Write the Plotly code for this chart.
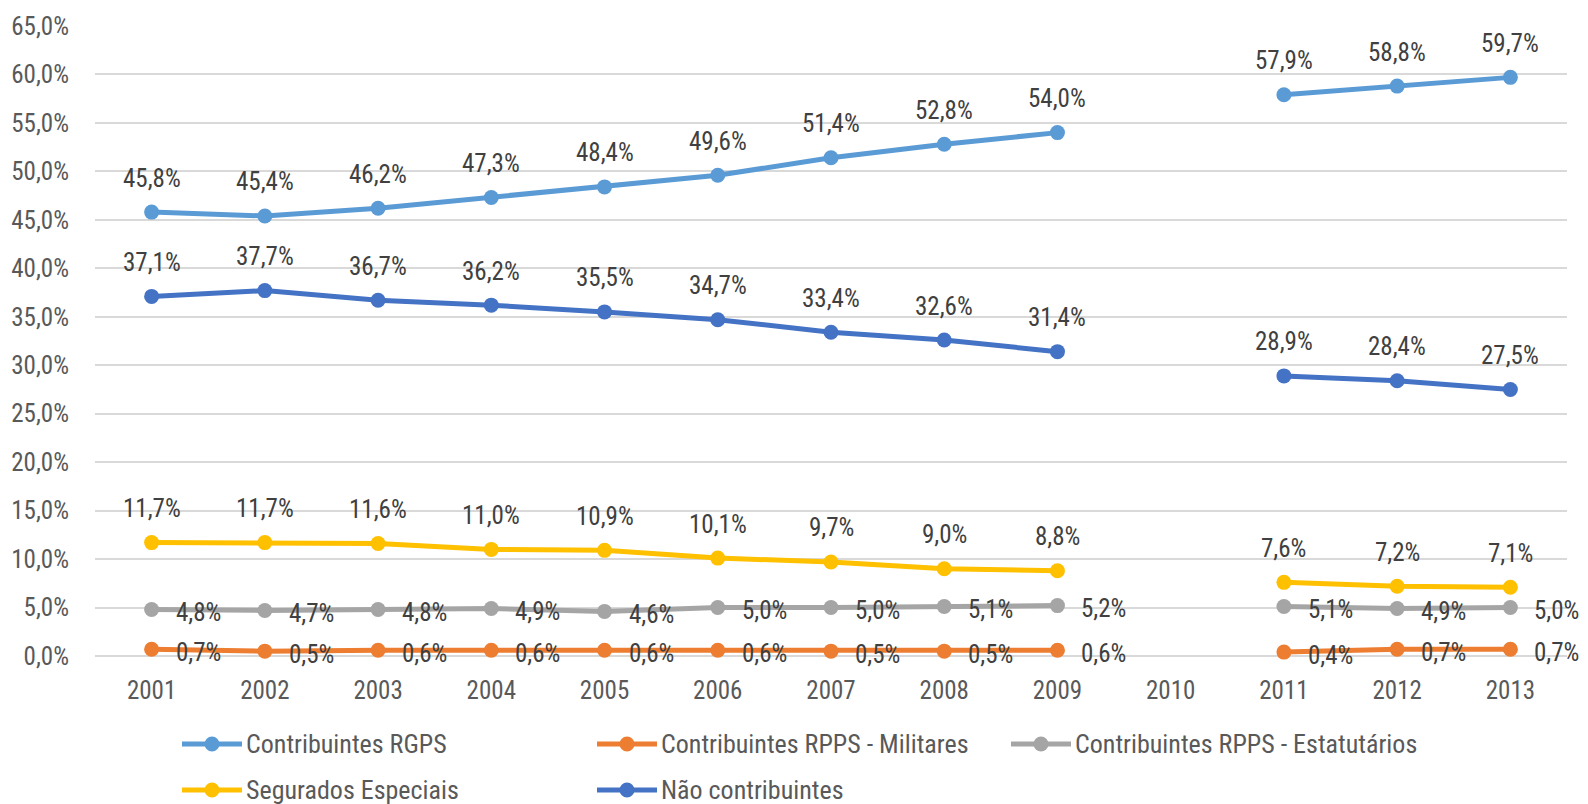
import plotly.graph_objects as go

years = ["2001", "2002", "2003", "2004", "2005", "2006", "2007", "2008", "2009", "2010", "2011", "2012", "2013"]
rgps = [45.8, 45.4, 46.2, 47.3, 48.4, 49.6, 51.4, 52.8, 54.0, None, 57.9, 58.8, 59.7]
militares = [0.7, 0.5, 0.6, 0.6, 0.6, 0.6, 0.5, 0.5, 0.6, None, 0.4, 0.7, 0.7]
estatutarios = [4.8, 4.7, 4.8, 4.9, 4.6, 5.0, 5.0, 5.1, 5.2, None, 5.1, 4.9, 5.0]
segurados = [11.7, 11.7, 11.6, 11.0, 10.9, 10.1, 9.7, 9.0, 8.8, None, 7.6, 7.2, 7.1]
nao_contrib = [37.1, 37.7, 36.7, 36.2, 35.5, 34.7, 33.4, 32.6, 31.4, None, 28.9, 28.4, 27.5]

names = ["Contribuintes RGPS", "Contribuintes RPPS - Militares", "Contribuintes RPPS - Estatutários",
         "Segurados Especiais", "Não contribuintes"]
colors = ["#5B9BD5", "#ED7D31", "#A5A5A5", "#FFC000", "#4472C4"]
series = [rgps, militares, estatutarios, segurados, nao_contrib]
label_pos = ["top", "right", "right", "top", "top"]

FONT = "Liberation Sans Narrow, Arial Narrow, Roboto Condensed, DejaVu Sans Condensed, sans-serif"
W, H = 1588, 804
L, R, T, B = 95, 21, 26, 148
PW, PH = W - L - R, H - T - B

fig = go.Figure()
annotations = []
for name, col, vals, pos in zip(names, colors, series, label_pos):
    fig.add_trace(go.Scatter(
        x=years, y=vals, mode="lines+markers", name=name,
        line=dict(color=col, width=5), marker=dict(color=col, size=15),
        showlegend=False, connectgaps=False, cliponaxis=False,
    ))
    for i, v in enumerate(vals):
        if v is None:
            continue
        txt = f"{v:.1f}".replace(".", ",") + "%"
        if pos == "top":
            annotations.append(dict(x=i, y=v, xref="x", yref="y", text=txt, showarrow=False,
                                    xanchor="center", yanchor="middle", yshift=34,
                                    font=dict(family=FONT, size=25, color="#404040")))
        else:
            annotations.append(dict(x=i, y=v, xref="x", yref="y", text=txt, showarrow=False,
                                    xanchor="left", yanchor="middle", xshift=22, yshift=-3,
                                    font=dict(family=FONT, size=25, color="#404040")))

# manual legend (pixel layout converted to paper coordinates)
shapes = []
leg_items = [(182, 744), (597, 744), (1011, 744), (182, 790), (597, 790)]
for (px, py), name, col in zip(leg_items, names, colors):
    x0 = (px - L) / PW
    x1 = (px + 60 - L) / PW
    xm = (px + 30 - L) / PW
    yp = (H - B - py) / PH
    shapes.append(dict(type="line", xref="paper", yref="paper", x0=x0, x1=x1, y0=yp, y1=yp,
                       line=dict(color=col, width=5)))
    shapes.append(dict(type="circle", xref="paper", yref="paper", xsizemode="pixel", ysizemode="pixel",
                       xanchor=xm, yanchor=yp, x0=-7.5, x1=7.5, y0=-7.5, y1=7.5,
                       fillcolor=col, line=dict(width=0)))
    annotations.append(dict(xref="paper", yref="paper", x=(px + 62 - L) / PW, y=yp, text=name,
                            showarrow=False, xanchor="left", yanchor="middle",
                            font=dict(family=FONT, size=26, color="#595959")))

fig.update_layout(
    width=W, height=H, margin=dict(l=L, r=R, t=T, b=B),
    plot_bgcolor="white", paper_bgcolor="white",
    separators=", ",
    font=dict(family=FONT, size=25, color="#595959"),
    annotations=annotations, shapes=shapes,
    xaxis=dict(type="category", range=[-0.5, 12.5], showgrid=False, zeroline=False, showline=False,
               ticks="outside", ticklen=12, tickcolor="rgba(0,0,0,0)",
               tickfont=dict(family=FONT, size=25, color="#595959")),
    yaxis=dict(range=[0, 65], dtick=5, tick0=0, tickformat=".1f", ticksuffix="%",
               showgrid=True, gridcolor="#D9D9D9", gridwidth=2, zeroline=True, zerolinecolor="#D9D9D9",
               zerolinewidth=2, showline=False, ticks="outside", ticklen=20, tickcolor="rgba(0,0,0,0)",
               tickfont=dict(family=FONT, size=25, color="#595959")),
)

fig.write_html("out.html")
